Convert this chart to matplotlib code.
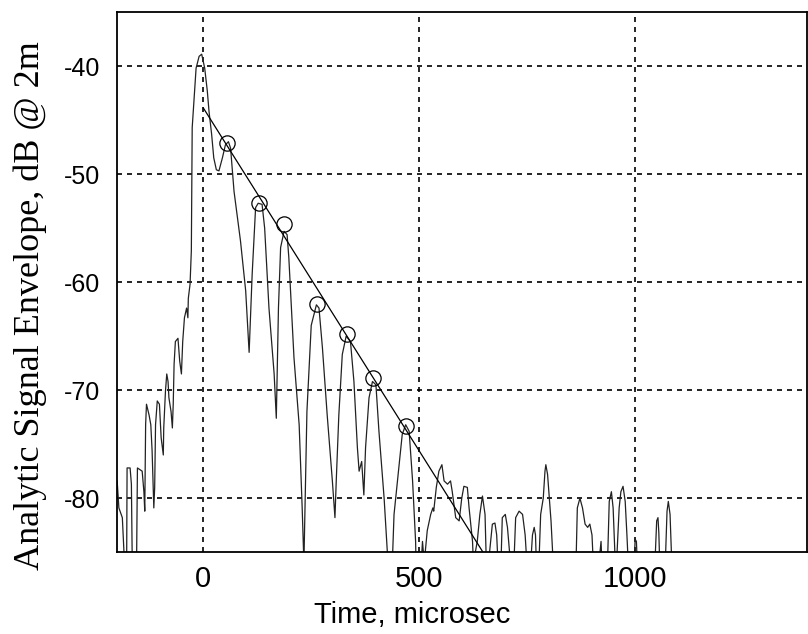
import matplotlib
matplotlib.use("Agg")
import matplotlib.pyplot as plt
import numpy as np

plt.rcParams['axes.unicode_minus'] = False

# envelope trace: time (microsec) and level (dB), clipped at the axis floor
t_us = [
    -200, -196, -188, -183, -178, -177, -170, -167, -165, -155, -153, -142, -138, -136,
    -134, -132, -126, -122, -119, -115, -113, -111, -107, -102, -98, -93, -92, -88,
    -85, -82, -80, -75, -72, -70, -68, -65, -59, -55, -51, -48, -44, -39, -36, -35,
    -31, -28, -26, -17, -10, -4, 3, 9, 13, 19, 24, 30, 36, 44, 51, 58, 63, 71, 86,
    98, 106, 113, 121, 127, 136, 142, 152, 164, 169, 174, 179, 187, 194, 198, 210,
    222, 229, 233, 240, 250, 262, 268, 276, 287, 299, 305, 308, 314, 322, 331, 341,
    349, 357, 361, 367, 372, 376, 384, 392, 400, 407, 419, 428, 438, 442, 450, 461,
    469, 477, 485, 492, 493, 505, 508, 512, 519, 527, 532, 534, 540, 546, 553, 558,
    566, 573, 577, 585, 593, 599, 604, 612, 616, 624, 626, 635, 641, 647, 653, 656,
    661, 670, 676, 680, 683, 690, 693, 700, 705, 712, 720, 724, 732, 740, 746, 750,
    759, 763, 767, 770, 772, 778, 782, 788, 792, 794, 798, 802, 806, 811, 864, 867,
    873, 879, 885, 891, 896, 901, 904, 917, 922, 924, 937, 941, 946, 950, 955, 958,
    964, 968, 973, 978, 982, 985, 999, 1001, 1004, 1006, 1047, 1051, 1054, 1056,
    1058, 1071, 1075, 1078, 1082, 1086, 1400,
]
level_db = [
    -78.4, -80.9, -81.8, -86, -86, -77.2, -77.2, -78.7, -86, -86, -77.2, -77.5, -79.4,
    -81.2, -73.2, -71.3, -72.3, -73.2, -75.6, -80.9, -79.0, -73.2, -71.0, -71.3, -74.4,
    -76.0, -73.5, -70.1, -68.5, -69.2, -70.7, -72.0, -73.5, -71.3, -67.6, -65.5, -65.2,
    -67.3, -68.5, -65.5, -63.3, -62.4, -63.3, -61.5, -60.2, -57.1, -45.7, -40.2, -39.1,
    -38.9, -40.2, -42.3, -44.2, -46.3, -48.5, -49.6, -49.7, -48.5, -47.3, -47.0, -47.6,
    -51.6, -56.2, -60.8, -66.5, -59.3, -53.1, -52.7, -52.8, -55.0, -62.4, -68.5, -72.6,
    -62.4, -56.8, -55.3, -55.6, -57.7, -67.0, -73.2, -80.9, -86, -72.0, -64.0, -62.1,
    -62.4, -66.1, -72.3, -78.4, -81.8, -78.4, -72.3, -66.7, -65.0, -65.5, -69.2, -75.3,
    -77.5, -76.6, -79.7, -75.3, -70.7, -69.2, -69.5, -73.8, -80.0, -86, -86, -81.5,
    -78.4, -74.1, -73.2, -73.8, -78.4, -84.0, -86, -86, -84.0, -86, -83.0, -81.5, -80.9,
    -81.2, -79.0, -77.5, -76.9, -78.4, -78.7, -78.4, -79.4, -81.8, -82.1, -80.0, -78.9,
    -79.0, -80.9, -84.0, -86, -84.0, -81.5, -79.8, -81.5, -86, -86, -82.4, -82.3, -83.4,
    -86, -86, -81.8, -81.5, -82.7, -86, -86, -81.8, -81.2, -81.5, -83.4, -86, -86, -83.4,
    -82.7, -83.4, -86, -86, -81.5, -80.0, -77.5, -76.9, -77.8, -80.0, -82.1, -86, -86,
    -80.9, -80.0, -80.9, -82.4, -82.7, -82.4, -83.4, -86, -86, -84.0, -86, -86, -80.3,
    -79.4, -80.9, -86, -86, -80.9, -79.4, -78.9, -80.3, -83.4, -86, -86, -83.8, -84.0,
    -86, -86, -82.1, -81.8, -83.2, -86, -86, -81.2, -80.3, -81.5, -86, -86,
]

# picked envelope peaks used for the decay fit
peak_t = [55, 130, 188, 264, 332, 394, 469]
peak_db = [-47.1, -52.7, -54.6, -62.0, -64.8, -68.9, -73.3]

slope, icpt = np.polyfit(peak_t, peak_db, 1)
fit_t = np.array([0, (-85 - icpt) / slope])
fit_db = icpt + slope * fit_t

fig = plt.figure(figsize=(8.08, 6.34), dpi=100)
ax = fig.add_axes([0.145, 0.129, 0.854, 0.852])

ax.plot(t_us, level_db, color='#222222', linewidth=0.9)
ax.plot(fit_t, fit_db, color='black', linewidth=0.9)
ax.plot(peak_t, peak_db, linestyle='none', marker='o', markersize=11,
        markerfacecolor='none', markeredgecolor='black', markeredgewidth=0.9)

ax.set_xlim(-200, 1400)
ax.set_ylim(-85, -35)
ax.set_xticks([0, 500, 1000])
ax.set_yticks([-80, -70, -60, -50, -40])
ax.grid(True, color='black', linestyle=(0, (3, 3)), linewidth=1.2)
ax.tick_params(direction='in', length=0)
ax.tick_params(axis='x', pad=9)
ax.tick_params(axis='y', pad=12)
for lbl in ax.get_xticklabels():
    lbl.set_fontfamily('Liberation Sans')
    lbl.set_fontsize(21)
for lbl in ax.get_yticklabels():
    lbl.set_fontfamily('Liberation Sans')
    lbl.set_fontsize(18)
for sp in ax.spines.values():
    sp.set_linewidth(1.3)

ax.set_xlabel('Time, microsec', fontfamily='Liberation Sans', fontsize=21)
ax.xaxis.set_label_coords(0.428, -0.09)
ax.set_ylabel('Analytic Signal Envelope, dB @ 2m', fontfamily='Liberation Serif',
              fontsize=26)
ax.yaxis.set_label_coords(-0.102, 0.457)

fig.savefig('out.png', dpi=100)
